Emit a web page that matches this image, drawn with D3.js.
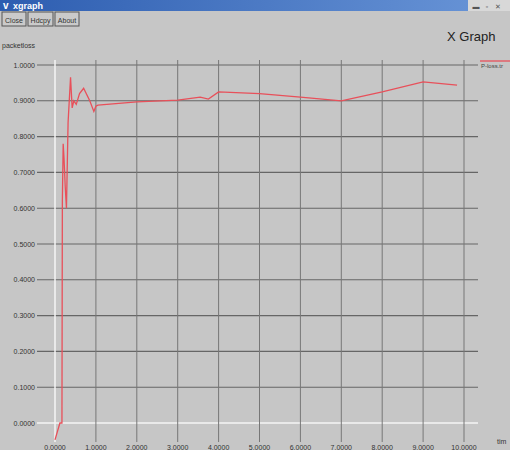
<!DOCTYPE html>
<html>
  <head>
    <title>xgraph packet loss</title>
    <style>
      body,
      html {
        margin: 0;
        padding: 0;
        background: #c6c6c6;
      }
      svg {
        display: block;
        font-family: 'Liberation Sans', Arial, sans-serif;
      }
    </style>
  </head>
  <body>
    <svg id="svg" width="510" height="450"></svg>
    <script src="https://cdn.jsdelivr.net/npm/d3@7"></script>
    <script>
      // packet loss ratio over time
      const timeValues = [
        0, 0.12, 0.17, 0.18, 0.2, 0.22, 0.25, 0.28, 0.32, 0.38, 0.42, 0.46,
        0.52, 0.6, 0.7, 0.85, 0.95, 1.0, 1.05, 2.0, 3.0, 3.55, 3.75, 4.0, 5.0,
        6.0, 7.0, 8.0, 9.0, 9.83
      ];
      const lossValues = [
        -0.047, 0.0, 0.0, 0.62, 0.78, 0.74, 0.66, 0.6, 0.84, 0.966, 0.88,
        0.9, 0.89, 0.92, 0.935, 0.9, 0.87, 0.885, 0.888, 0.897, 0.902, 0.91,
        0.905, 0.925, 0.92, 0.91, 0.9, 0.925, 0.953, 0.944
      ];
      const xTicks = [0, 1, 2, 3, 4, 5, 6, 7, 8, 9, 10];
      const yTicks = [0, 0.1, 0.2, 0.3, 0.4, 0.5, 0.6, 0.7, 0.8, 0.9, 1.0];
      const buttonLabels = ['Close', 'Hdcpy', 'About'];
      const seriesName = 'P-loss.tr';

      const svg = d3.select('#svg');
      const width = 510;

      // window chrome
      const grad = svg
        .append('defs')
        .append('linearGradient')
        .attr('id', 'bar')
        .attr('x1', 0)
        .attr('x2', 1);
      grad.append('stop').attr('offset', '0%').attr('stop-color', '#2d5db0');
      grad.append('stop').attr('offset', '100%').attr('stop-color', '#6a96d8');
      svg
        .append('rect')
        .attr('width', width)
        .attr('height', 11)
        .attr('fill', 'url(#bar)');
      svg
        .append('text')
        .text('v')
        .attr('x', 3)
        .attr('y', 9)
        .attr('font-size', 10)
        .attr('font-weight', 'bold')
        .attr('fill', '#fff');
      svg
        .append('text')
        .text('xgraph')
        .attr('x', 13)
        .attr('y', 9)
        .attr('font-size', 9)
        .attr('font-weight', 'bold')
        .attr('fill', '#fff');
      svg
        .append('rect')
        .attr('x', 468)
        .attr('y', 0)
        .attr('width', 42)
        .attr('height', 11)
        .attr('fill', '#d8d8d8');
      ['▬', '▫', '✕'].forEach((s, i) => {
        svg
          .append('text')
          .text(s)
          .attr('x', 476 + i * 11)
          .attr('y', 9)
          .attr('font-size', 7)
          .attr('text-anchor', 'middle')
          .attr('fill', '#555');
      });

      const bx = [2, 28, 55];
      const bw = [24, 25, 24];
      buttonLabels.forEach((b, i) => {
        svg
          .append('rect')
          .attr('x', bx[i])
          .attr('y', 12)
          .attr('width', bw[i])
          .attr('height', 14)
          .attr('fill', '#cacaca')
          .attr('stroke', '#555');
        svg
          .append('text')
          .text(b)
          .attr('x', bx[i] + bw[i] / 2)
          .attr('y', 22.5)
          .attr('font-size', 7)
          .attr('text-anchor', 'middle')
          .attr('fill', '#333');
      });
      svg
        .append('text')
        .text('packetloss')
        .attr('x', 2)
        .attr('y', 48)
        .attr('font-size', 7)
        .attr('fill', '#333');
      svg
        .append('text')
        .text('X Graph')
        .attr('x', 447)
        .attr('y', 41)
        .attr('font-size', 13)
        .attr('fill', '#222');

      // scales
      const x = d3.scaleLinear().domain([0, 10]).range([55, 464]);
      const y = d3.scaleLinear().domain([0, 1]).range([423, 65]);

      const grid = svg.append('g');
      grid
        .selectAll('line.h')
        .data(yTicks)
        .enter()
        .append('line')
        .attr('x1', 37)
        .attr('x2', 478)
        .attr('y1', (d) => y(d))
        .attr('y2', (d) => y(d))
        .attr('stroke', (d) => (d === 0 ? '#f4f4f4' : '#666'))
        .attr('stroke-width', (d) => (d === 0 ? 1.5 : 1.1));
      grid
        .selectAll('line.v')
        .data(xTicks)
        .enter()
        .append('line')
        .attr('x1', (d) => x(d))
        .attr('x2', (d) => x(d))
        .attr('y1', 60)
        .attr('y2', 442)
        .attr('stroke', (d) => (d === 0 ? '#f4f4f4' : '#777'))
        .attr('stroke-width', (d) => (d === 0 ? 1.5 : 1));

      svg
        .append('g')
        .selectAll('text')
        .data(yTicks)
        .enter()
        .append('text')
        .text((d) => d3.format('.4f')(d))
        .attr('x', 35)
        .attr('y', (d) => y(d) + 2.5)
        .attr('text-anchor', 'end')
        .attr('font-size', 7)
        .attr('fill', '#333');
      svg
        .append('g')
        .selectAll('text')
        .data(xTicks)
        .enter()
        .append('text')
        .text((d) => d3.format('.4f')(d))
        .attr('x', (d) => x(d))
        .attr('y', 450)
        .attr('text-anchor', 'middle')
        .attr('font-size', 7)
        .attr('fill', '#333');
      svg
        .append('text')
        .text('tim')
        .attr('x', 497)
        .attr('y', 444)
        .attr('font-size', 7)
        .attr('fill', '#333');

      // series
      const pts = timeValues.map((t, i) => [t, lossValues[i]]);
      const line = d3
        .line()
        .x((d) => x(d[0]))
        .y((d) => y(d[1]));
      svg
        .append('path')
        .datum(pts)
        .attr('d', line)
        .attr('fill', 'none')
        .attr('stroke', '#e8505a')
        .attr('stroke-width', 1.3);

      // legend
      svg
        .append('line')
        .attr('x1', 480)
        .attr('x2', 510)
        .attr('y1', 61)
        .attr('y2', 61)
        .attr('stroke', '#e8505a')
        .attr('stroke-width', 1.3);
      svg
        .append('text')
        .text(seriesName)
        .attr('x', 481)
        .attr('y', 68)
        .attr('font-size', 6)
        .attr('fill', '#444');
    </script>
  </body>
</html>
